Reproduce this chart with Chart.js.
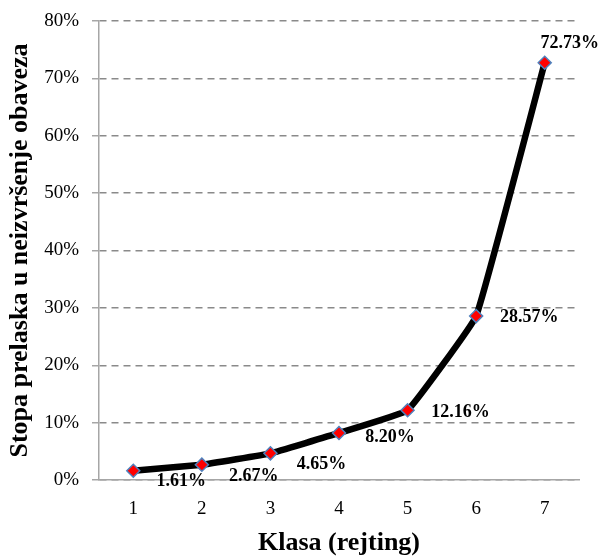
<!DOCTYPE html>
<html>
<head>
<meta charset="utf-8">
<script src="https://cdn.jsdelivr.net/npm/chart.js@4"></script>
<style>
  html, body { margin: 0; padding: 0; background: #fff; }
  #wrap { width: 603px; height: 556px; }
</style>
</head>
<body>
<div id="wrap"><canvas id="chart" width="603" height="556"></canvas></div>
<script>
// DATA
const classes = ["1", "2", "3", "4", "5", "6", "7"];
const defaultRates = [1.61, 2.67, 4.65, 8.20, 12.16, 28.57, 72.73];
const yTicks = [0, 10, 20, 30, 40, 50, 60, 70, 80];

// label offsets from each point (px), as placed in the original
const labelOffsets = [[48, 11], [52, 12], [51, 11], [51, 4], [53, 2], [53, 1], [25, -19]];

const SERIF = "'Liberation Serif', 'Times New Roman', serif";

// value labels next to the points
const pointLabels = {
    id: "pointLabels",
    afterDatasetsDraw(chart) {
        const ctx = chart.ctx;
        const meta = chart.getDatasetMeta(0);
        ctx.save();
        ctx.font = "bold 18px " + SERIF;
        ctx.fillStyle = "#000";
        ctx.textAlign = "center";
        ctx.textBaseline = "middle";
        meta.data.forEach((pt, i) => {
            const off = labelOffsets[i];
            ctx.fillText(defaultRates[i].toFixed(2) + "%", pt.x + off[0], pt.y + off[1]);
        });
        ctx.restore();
    }
};

new Chart(document.getElementById("chart"), {
    type: "line",
    data: {
        labels: classes,
        datasets: [{
            data: defaultRates,
            borderColor: "#000",
            borderWidth: 6.5,
            tension: 0.08,
            pointStyle: "rectRot",
            pointRadius: 6.5,
            pointBackgroundColor: "#ff0000",
            pointBorderColor: "#4f81bd",
            pointBorderWidth: 1.5
        }]
    },
    options: {
        responsive: false,
        animation: false,
        layout: { padding: { top: 21, right: 24, left: 0, bottom: 0 } },
        plugins: { legend: { display: false }, tooltip: { enabled: false } },
        scales: {
            x: {
                offset: true,
                grid: { display: false, drawTicks: false, offset: true },
                border: { display: true, color: "#a6a6a6", width: 1.5 },
                ticks: { color: "#000", font: { family: SERIF, size: 19 }, padding: 18 },
                title: {
                    display: true, text: "Klasa (rejting)", color: "#000",
                    font: { family: SERIF, size: 26, weight: "bold", lineHeight: 1 },
                    padding: { top: 0, bottom: 0 }
                },
                afterFit(s) { s.height = 76; s.paddingLeft = 0; s.paddingRight = 0; }
            },
            y: {
                min: 0, max: 80,
                afterBuildTicks(s) { s.ticks = yTicks.map(v => ({ value: v })); },
                grid: { color: "#8a8a8a", lineWidth: 1.5, tickLength: 7, tickColor: "#a6a6a6" },
                border: { display: true, color: "#a6a6a6", width: 1.5, dash: [7, 5] },
                ticks: {
                    color: "#000", font: { family: SERIF, size: 19 }, padding: 13,
                    callback: v => v + "%"
                },
                title: {
                    display: true, text: "Stopa prelaska u neizvršenje obaveza", color: "#000",
                    font: { family: SERIF, size: 26, weight: "bold", lineHeight: 1 },
                    padding: { top: 7, bottom: 0 }
                },
                afterFit(s) { s.width = 99; s.paddingTop = 0; s.paddingBottom = 0; }
            }
        }
    },
    plugins: [pointLabels]
});
</script>
</body>
</html>
